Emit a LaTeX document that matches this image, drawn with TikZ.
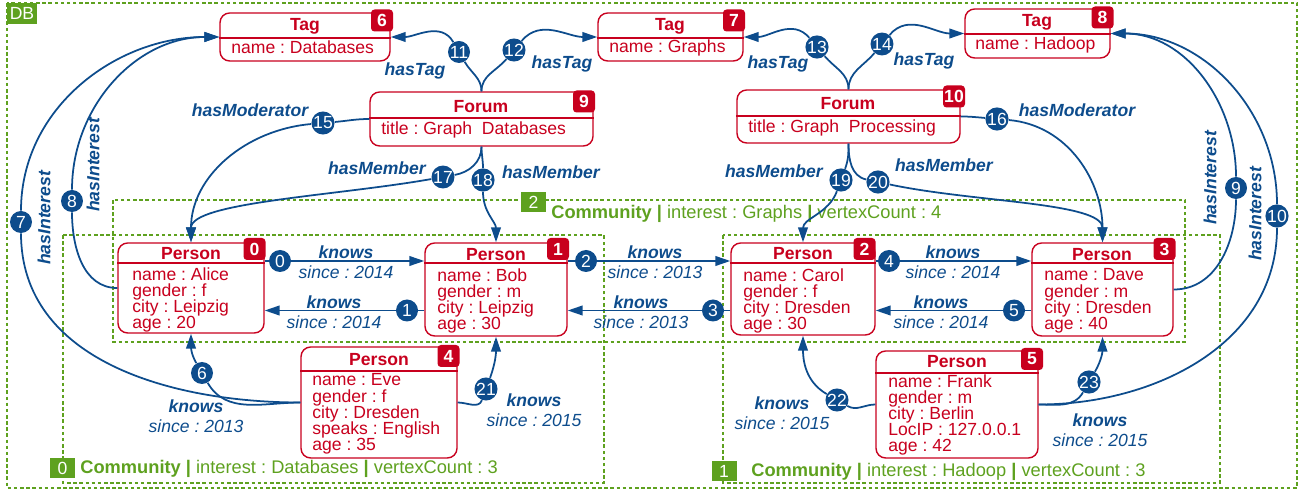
\documentclass[tikz,border=0pt]{standalone}
\usepackage{fontspec}
\setmainfont{Liberation Sans}
\usetikzlibrary{arrows.meta,fit}
\frenchspacing
\definecolor{gred}{HTML}{C8001E}
\definecolor{gblue}{HTML}{0D4C8C}
\definecolor{ggreen}{HTML}{5EA11F}
\tikzset{
  entity/.style={draw=gred, fill=white, line width=0.8pt, rounded corners=5.5pt, inner sep=0pt},
  divider/.style={draw=gred, line width=0.8pt},
  head/.style={text=gred, font=\bfseries, inner sep=0pt},
  attrs/.style={text=gred, align=left, anchor=west, inner sep=0pt, font={\fontsize{10}{9.2}\selectfont\lineskiplimit=-10pt}},
  badge/.style={fill=gred, text=white, font=\bfseries, rounded corners=2pt, minimum width=0.44cm, minimum height=0.44cm, inner sep=0pt},
  num/.style={circle, fill=gblue, text=white, inner sep=0pt, minimum size=0.44cm},
  rel/.style={draw=gblue, line width=1pt, -{Triangle[length=8.5pt,width=5.5pt]}},
  rlab/.style={text=gblue, align=center, inner sep=0pt, font={\fontsize{10}{11.3}\selectfont\itshape}},
  tlab/.style={text=gblue, inner sep=0pt, font=\bfseries\itshape},
  cbox/.style={draw=ggreen, line width=0.8pt, dash pattern=on 2pt off 1.5pt},
  cnum/.style={fill=ggreen, text=white, inner sep=0pt, minimum width=0.5cm, minimum height=0.4cm},
  comm/.style={text=ggreen, anchor=west, inner sep=0pt, font=\fontsize{10.4}{12}\selectfont}
}
\begin{document}
\begin{tikzpicture}[x=0.02cm, y=-0.02cm]
  \useasboundingbox (0,0) rectangle (1301,492);

  \draw[cbox] (7,3) rectangle (1297,488);
  \node[cnum, minimum width=0.6cm, minimum height=0.42cm] (db) at (22,13.5) {DB};
  \draw[cbox] (113,200) rectangle (1185,342);
  \draw[cbox] (63,235) rectangle (604,483);
  \draw[cbox] (723,235) rectangle (1220,483);
  \node[cnum] (c2) at (533.5,202) {2};
  \node[comm] (c2-text) at (551,214) {\textbf{Community |} interest : Graphs \textbf{|} vertexCount : 4};
  \node[cnum] (c0) at (62.5,468) {0};
  \node[comm] (c0-text) at (80,469) {\textbf{Community |} interest : Databases \textbf{|} vertexCount : 3};
  \node[cnum] (c1) at (724,471) {1};
  \node[comm] (c1-text) at (751,472) {\textbf{Community |} interest : Hadoop \textbf{|} vertexCount : 3};

  \node[entity, fit={(220,13) (390,61)}] (tagdb) {};
  \draw[divider] (tagdb.west |- 0,38) -- (tagdb.east |- 0,38);
  \node[head] (tagdb-h) at (305,26) {Tag};
  \node[attrs] (tagdb-a) at (231,47) {name : Databases};
  \node[badge] (tagdb-b) at (382,20.5) {6};

  \node[entity, fit={(598,13) (743,61)}] (taggraph) {};
  \draw[divider] (taggraph.west |- 0,38) -- (taggraph.east |- 0,38);
  \node[head] (taggraph-h) at (670,26) {Tag};
  \node[attrs] (taggraph-a) at (609,48) {name : Graphs};
  \node[badge] (taggraph-b) at (734,20.5) {7};

  \node[entity, fit={(965,9) (1110,58)}] (taghadoop) {};
  \draw[divider] (taghadoop.west |- 0,34) -- (taghadoop.east |- 0,34);
  \node[head] (taghadoop-h) at (1037,22) {Tag};
  \node[attrs] (taghadoop-a) at (975,45) {name : Hadoop};
  \node[badge] (taghadoop-b) at (1102.5,17.5) {8};

  \node[entity, fit={(370,92) (593,146)}] (forumdb) {};
  \draw[divider] (forumdb.west |- 0,118) -- (forumdb.east |- 0,118);
  \node[head] (forumdb-h) at (481,107) {Forum};
  \node[attrs] (forumdb-a) at (381,130) {title : Graph\ \ Databases};
  \node[badge] (forumdb-b) at (584,101.5) {9};

  \node[entity, fit={(737,90) (960,143)}] (forumgp) {};
  \draw[divider] (forumgp.west |- 0,116) -- (forumgp.east |- 0,116);
  \node[head] (forumgp-h) at (848,104) {Forum};
  \node[attrs] (forumgp-a) at (748,128) {title : Graph\ \ Processing};
  \node[badge] (forumgp-b) at (954,96.5) {10};

  \node[entity, fit={(118,243) (264,333)}] (alice) {};
  \draw[divider] (alice.west |- 0,263) -- (alice.east |- 0,263);
  \node[head] (alice-h) at (191,254) {Person};
  \node[attrs] (alice-a) at (132,300) {name : Alice\\gender : f\\city : Leipzig\\age : 20};
  \node[badge] (alice-b) at (254.5,249) {0};

  \node[entity, fit={(425,243) (567,336)}] (bob) {};
  \draw[divider] (bob.west |- 0,263) -- (bob.east |- 0,263);
  \node[head] (bob-h) at (496,255) {Person};
  \node[attrs] (bob-a) at (437,301) {name : Bob\\gender : m\\city : Leipzig\\age : 30};
  \node[badge] (bob-b) at (558,249) {1};

  \node[entity, fit={(731,243) (875,335)}] (carol) {};
  \draw[divider] (carol.west |- 0,263) -- (carol.east |- 0,263);
  \node[head] (carol-h) at (803,254) {Person};
  \node[attrs] (carol-a) at (743,301) {name : Carol\\gender : f\\city : Dresden\\age : 30};
  \node[badge] (carol-b) at (864.5,249) {2};

  \node[entity, fit={(1032,243) (1173,336)}] (dave) {};
  \draw[divider] (dave.west |- 0,263) -- (dave.east |- 0,263);
  \node[head] (dave-h) at (1102,255) {Person};
  \node[attrs] (dave-a) at (1044,301) {name : Dave\\gender : m\\city : Dresden\\age : 40};
  \node[badge] (dave-b) at (1164.5,249) {3};

  \node[entity, fit={(301,347) (457,458)}] (eve) {};
  \draw[divider] (eve.west |- 0,371) -- (eve.east |- 0,371);
  \node[head] (eve-h) at (379,360) {Person};
  \node[attrs] (eve-a) at (312,414) {name : Eve\\gender : f\\city : Dresden\\speaks : English\\age : 35};
  \node[badge] (eve-b) at (448.5,356) {4};

  \node[entity, fit={(876,351) (1038,458)}] (frank) {};
  \draw[divider] (frank.west |- 0,373) -- (frank.east |- 0,373);
  \node[head] (frank-h) at (957,362) {Person};
  \node[attrs] (frank-a) at (888,415) {name : Frank\\gender : m\\city : Berlin\\LocIP : 127.0.0.1\\age : 42};
  \node[badge] (frank-b) at (1032,359) {5};

  \node[num] (n0) at (280,261) {0};
  \node[num] (n1) at (407,310.5) {1};
  \node[num] (n2) at (586,261) {2};
  \node[num] (n3) at (713,310.5) {3};
  \node[num] (n4) at (889,261) {4};
  \node[num] (n5) at (1014,310.5) {5};
  \node[num] (n6) at (202,373) {6};
  \node[num] (n7) at (21,222) {7};
  \node[num] (n8) at (72,201) {8};
  \node[num] (n9) at (1236,188) {9};
  \node[num] (n10) at (1277,216) {10};
  \node[num] (n11) at (459,52) {11};
  \node[num] (n12) at (514,50) {12};
  \node[num] (n13) at (817,47) {13};
  \node[num] (n14) at (882,44) {14};
  \node[num] (n15) at (323,123) {15};
  \node[num] (n16) at (997,119) {16};
  \node[num] (n17) at (443,177) {17};
  \node[num] (n18) at (483,180) {18};
  \node[num] (n19) at (841,180) {19};
  \node[num] (n20) at (878,182) {20};
  \node[num] (n21) at (486,389) {21};
  \node[num] (n22) at (837,400) {22};
  \node[num] (n23) at (1089,382) {23};

  \coordinate (row1) at (0,261);
  \coordinate (row2) at (0,310.5);
  \draw[rel] (alice.east |- row1) -- (n0) -- (bob.west |- row1);
  \draw[rel] (bob.west |- row2) -- (n1) -- (alice.east |- row2);
  \draw[rel] (bob.east |- row1) -- (n2) -- (carol.west |- row1);
  \draw[rel] (carol.west |- row2) -- (n3) -- (bob.east |- row2);
  \draw[rel] (carol.east |- row1) -- (n4) -- (dave.west |- row1);
  \draw[rel] (dave.west |- row2) -- (n5) -- (carol.east |- row2);
  \draw[rel] (eve.west) to[out=180,in=-60] (n6) to[out=120,in=-90] (alice.south);
  \draw[rel] (eve.west) to[out=180,in=-90] (n7) to[out=90,in=180] (tagdb.west);
  \draw[rel] (alice.west) to[out=180,in=-90] (n8) to[out=90,in=180] (tagdb.west);
  \draw[rel] (dave.east) to[out=0,in=-90] (n9) to[out=90,in=0] (taghadoop.east);
  \draw[rel] (frank.east) to[out=0,in=-90] (n10) to[out=90,in=0] (taghadoop.east);
  \draw[rel] (forumdb.north) to[out=90,in=-60] (n11) to[out=120,in=0] (tagdb.east);
  \draw[rel] (forumdb.north) to[out=90,in=-130] (n12) to[out=50,in=180] (taggraph.west);
  \draw[rel] (forumgp.north) to[out=90,in=-50] (n13) to[out=130,in=0] (taggraph.east);
  \draw[rel] (forumgp.north) to[out=90,in=-130] (n14) to[out=50,in=180] (taghadoop.west);
  \draw[rel] (forumdb.west) to[out=180,in=5] (n15) to[out=185,in=90] (alice.north);
  \draw[rel] (forumgp.east) to[out=0,in=175] (n16) to[out=-5,in=90] (dave.north);
  \draw[rel] (forumdb.south) to[out=-90,in=10] (n17) to[out=190,in=90,in distance=0.8cm] (alice.north);
  \draw[rel] (forumdb.south) to[out=-90,in=90] (n18) to[out=-90,in=90] (bob.north);
  \draw[rel] (forumgp.south) to[out=-90,in=70] (n19) to[out=250,in=90] (carol.north);
  \draw[rel] (forumgp.south) to[out=-90,in=168] (n20) to[out=-12,in=90,in distance=0.8cm] (dave.north);
  \draw[rel] (eve.east) to[out=0,in=-110] (n21) to[out=70,in=-90] (bob.south);
  \draw[rel] (frank.west) to[out=180,in=-30] (n22) to[out=150,in=-90] (carol.south);
  \draw[rel] (frank.east) to[out=0,in=-120] (n23) to[out=60,in=-90] (dave.south);

  \node[rlab] (k0) at (346,262) {\textbf{knows}\\since : 2014};
  \node[rlab] (k1) at (334,312) {\textbf{knows}\\since : 2014};
  \node[rlab] (k2) at (655,262) {\textbf{knows}\\since : 2013};
  \node[rlab] (k3) at (641,312) {\textbf{knows}\\since : 2013};
  \node[rlab] (k4) at (953,262) {\textbf{knows}\\since : 2014};
  \node[rlab] (k5) at (941,312) {\textbf{knows}\\since : 2014};
  \node[rlab] (k6) at (196,416) {\textbf{knows}\\since : 2013};
  \node[rlab] (k21) at (534,410) {\textbf{knows}\\since : 2015};
  \node[rlab] (k22) at (782,413) {\textbf{knows}\\since : 2015};
  \node[rlab] (k23) at (1100,430) {\textbf{knows}\\since : 2015};

  \node[tlab, rotate=90] (t7) at (44,218) {hasInterest};
  \node[tlab, rotate=90] (t8) at (93,165) {hasInterest};
  \node[tlab, rotate=90] (t9) at (1210,178) {hasInterest};
  \node[tlab, rotate=90] (t10) at (1255,214) {hasInterest};
  \node[tlab] (t11) at (415,71) {hasTag};
  \node[tlab] (t12) at (562,64) {hasTag};
  \node[tlab] (t13) at (778,64) {hasTag};
  \node[tlab] (t14) at (924,61) {hasTag};
  \node[tlab] (t15) at (250,110) {hasModerator};
  \node[tlab] (t16) at (1077,110) {hasModerator};
  \node[tlab] (t17) at (377,168) {hasMember};
  \node[tlab] (t18) at (551,172) {hasMember};
  \node[tlab] (t19) at (774,171) {hasMember};
  \node[tlab] (t20) at (944,165) {hasMember};
\end{tikzpicture}
\end{document}
